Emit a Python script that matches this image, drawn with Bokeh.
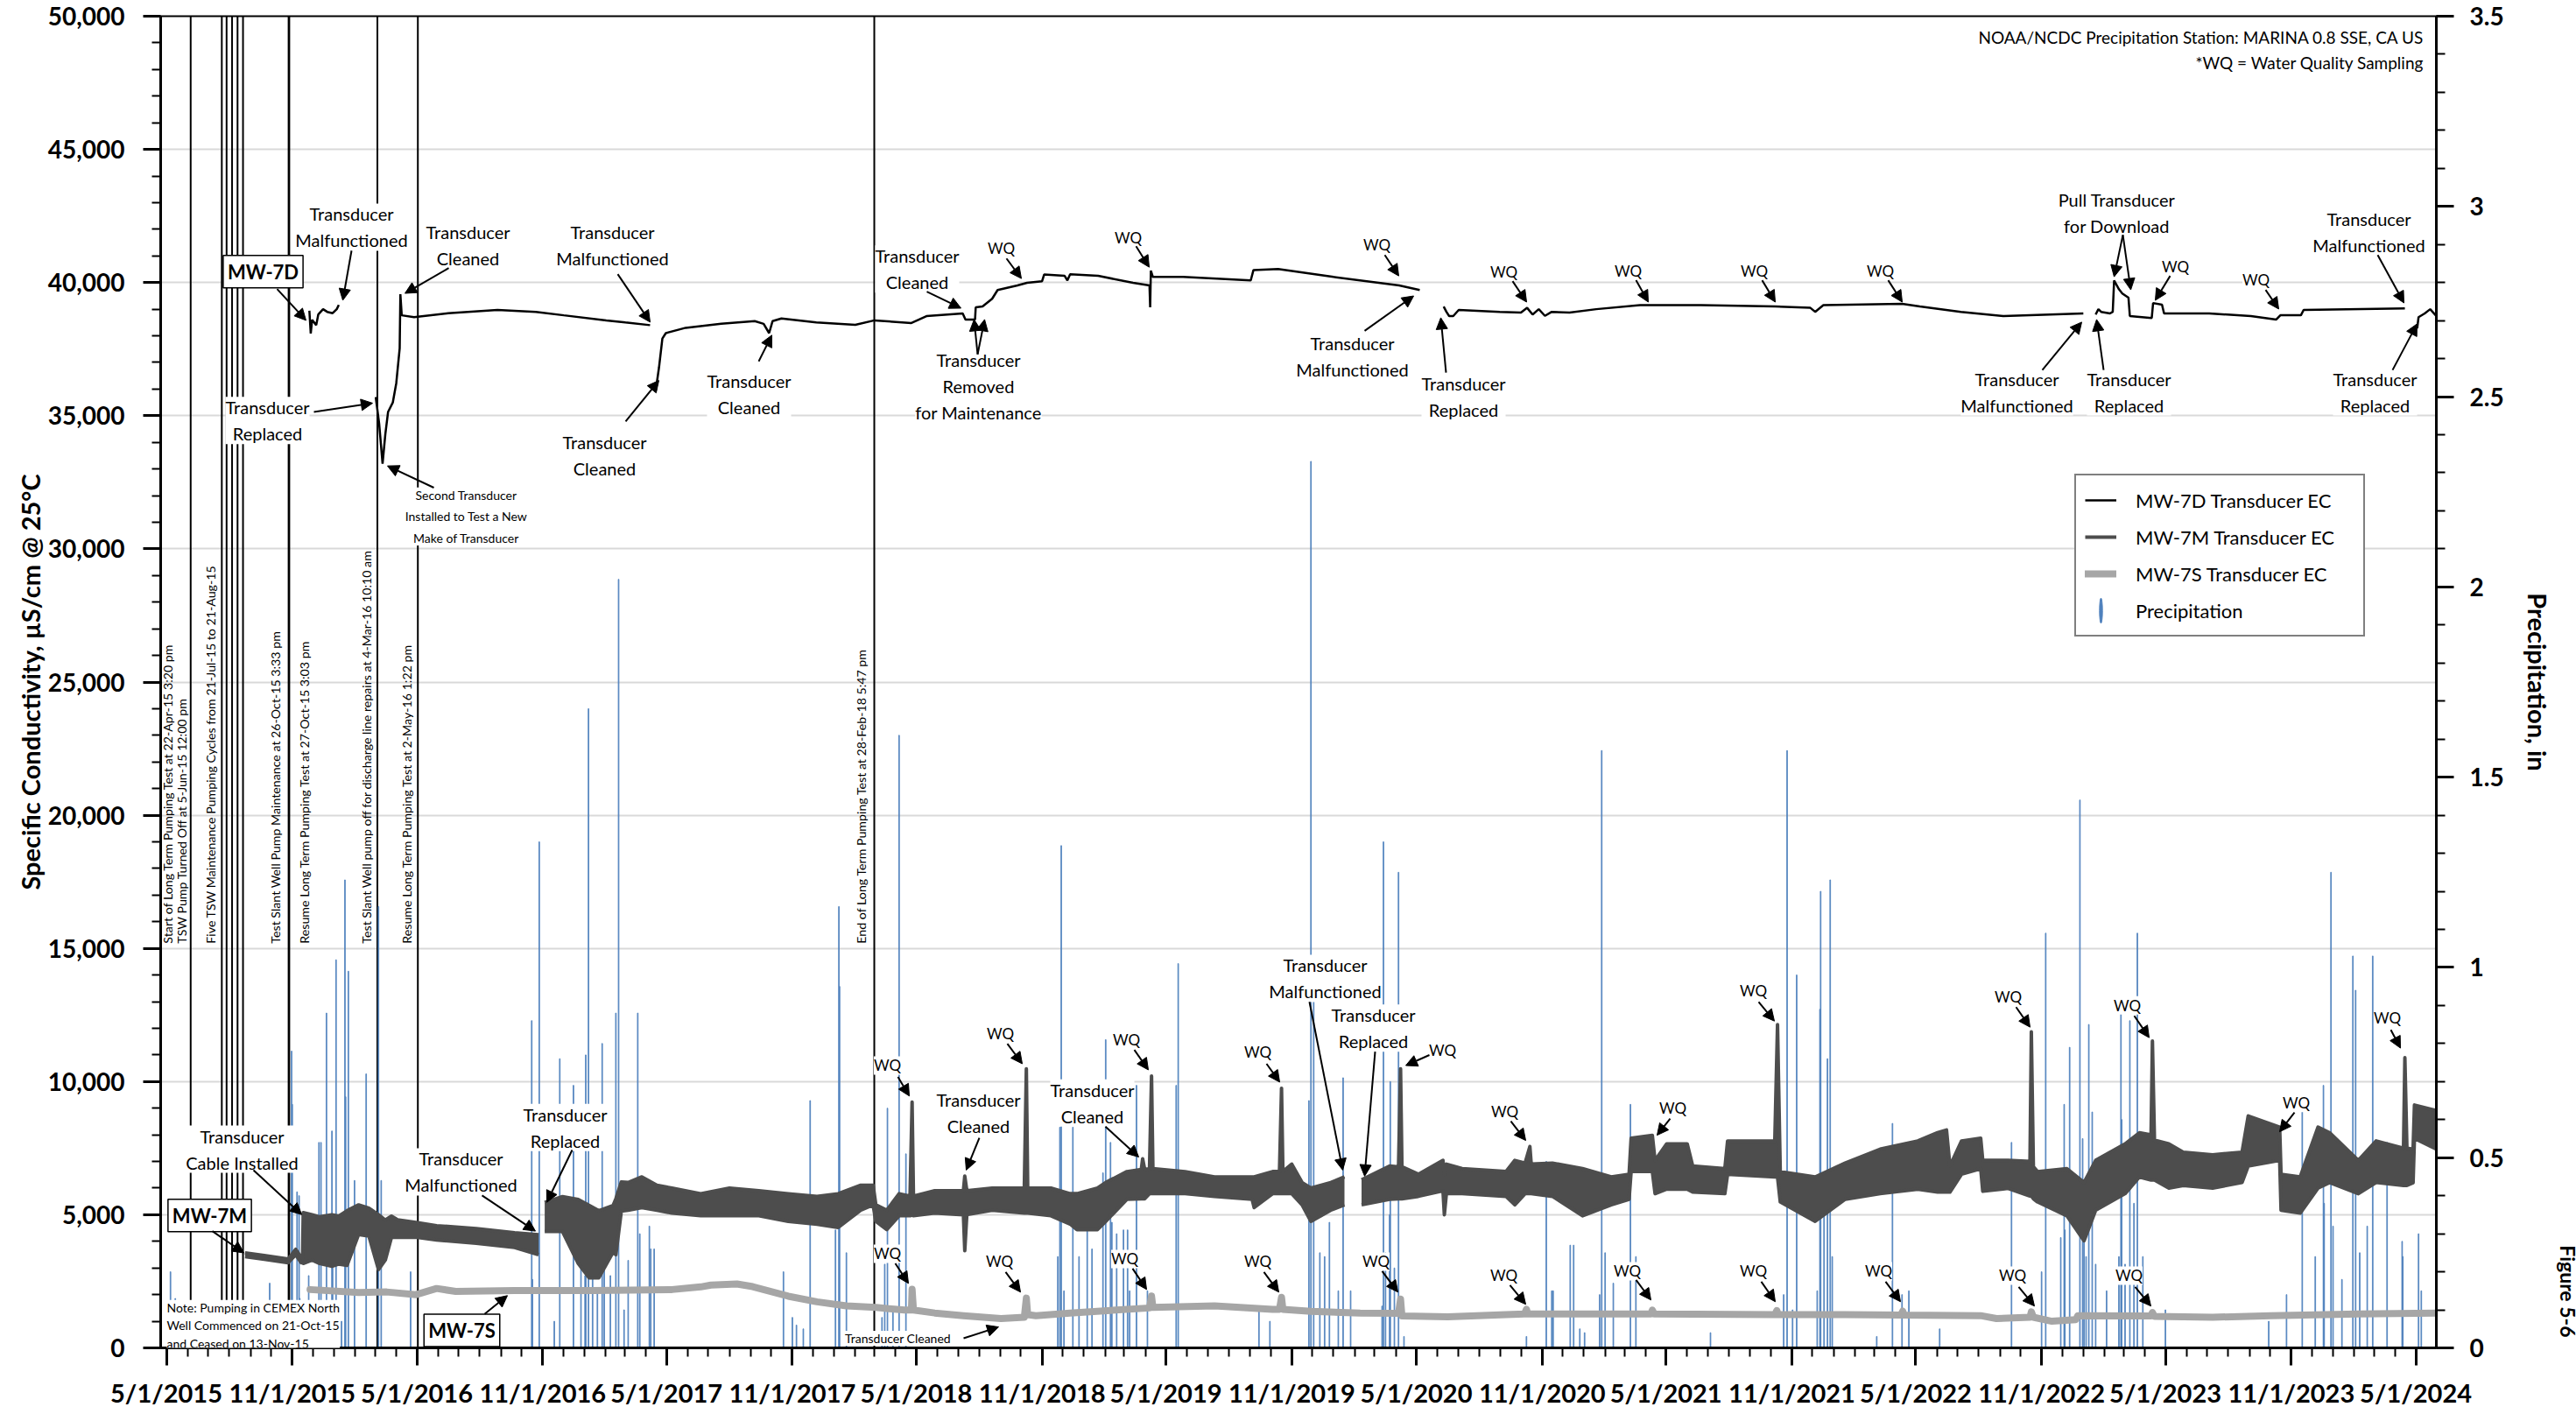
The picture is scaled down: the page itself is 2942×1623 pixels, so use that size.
import math
import numpy as np
import pandas as pd
from bokeh.plotting import figure
from bokeh.models import (Range1d, LinearAxis, FixedTicker, NumeralTickFormatter, Span, Label,
                          Arrow, NormalHead, Legend, LegendItem, ColumnDataSource, Title)
from bokeh.embed import file_html
from bokeh.resources import INLINE

NAN = float("nan")
FONT = "Lato"

# ---------------------------------------------------------------- data
X_START = "2015-04-22 15:20"
X_END = "2024-05-31"

x_tick_dates = ["2015-05-01", "2015-11-01", "2016-05-01", "2016-11-01", "2017-05-01", "2017-11-01",
                "2018-05-01", "2018-11-01", "2019-05-01", "2019-11-01", "2020-05-01", "2020-11-01",
                "2021-05-01", "2021-11-01", "2022-05-01", "2022-11-01", "2023-05-01", "2023-11-01",
                "2024-05-01"]
x_tick_labels = ["5/1/2015", "11/1/2015", "5/1/2016", "11/1/2016", "5/1/2017", "11/1/2017",
                 "5/1/2018", "11/1/2018", "5/1/2019", "11/1/2019", "5/1/2020", "11/1/2020",
                 "5/1/2021", "11/1/2021", "5/1/2022", "11/1/2022", "5/1/2023", "11/1/2023",
                 "5/1/2024"]

# MW-7D transducer EC (NaN = data gap)
mw7d_dates = ["2015-11-26", "2015-11-28", "2015-11-30", "2015-12-06", "2015-12-09", "2015-12-16",
              "2015-12-22", "2015-12-30", "2016-01-05", "2016-01-08", "2016-02-01",
              "2016-03-02", "2016-03-07", "2016-03-12", "2016-03-16", "2016-03-20", "2016-03-27",
              "2016-04-01", "2016-04-06", "2016-04-07", "2016-04-09", "2016-04-27", "2016-06-16",
              "2016-08-27", "2016-10-22", "2016-12-02", "2017-02-02", "2017-03-02", "2017-04-07",
              "2017-04-11",
              "2017-04-15", "2017-04-20", "2017-04-25", "2017-04-30", "2017-05-29", "2017-07-20",
              "2017-09-07", "2017-09-20", "2017-09-28", "2017-10-03", "2017-10-16", "2017-12-06",
              "2018-02-01", "2018-03-01", "2018-04-24", "2018-05-16", "2018-07-08", "2018-07-12",
              "2018-07-26", "2018-07-27", "2018-08-06", "2018-08-20", "2018-08-28", "2018-09-26",
              "2018-10-10", "2018-11-01", "2018-11-04", "2018-12-04", "2018-12-08", "2018-12-12",
              "2019-01-22", "2019-03-14", "2019-04-07", "2019-04-08", "2019-04-09", "2019-04-12",
              "2019-05-26", "2019-09-02", "2019-09-06", "2019-10-12", "2020-01-01", "2020-04-06",
              "2020-05-06", "2020-05-20",
              "2020-06-10", "2020-06-14", "2020-06-18", "2020-06-24", "2020-07-02", "2020-08-31",
              "2020-10-01", "2020-10-10", "2020-10-18", "2020-10-27", "2020-11-05", "2020-11-15",
              "2020-12-11", "2021-01-19", "2021-03-24", "2021-06-21", "2021-10-08", "2021-11-28",
              "2021-12-05", "2021-12-17", "2022-04-11", "2022-05-07", "2022-07-06", "2022-09-06",
              "2023-01-01", "2023-01-10",
              "2023-01-19", "2023-01-23", "2023-01-27", "2023-02-09", "2023-02-13", "2023-02-15",
              "2023-02-22", "2023-02-27", "2023-03-08", "2023-03-10", "2023-04-11", "2023-04-13",
              "2023-04-26", "2023-04-29", "2023-07-04", "2023-09-03", "2023-10-10", "2023-10-16",
              "2023-11-15", "2023-11-19", "2024-04-15", "2024-04-25",
              "2024-05-03", "2024-05-05", "2024-05-14", "2024-05-22", "2024-05-30"]
mw7d_ec = [38940, 38090, 38600, 38400, 38800, 39000,
           38900, 38850, 39000, 39160, NAN,
           35700, 34700, 33200, 34300, 35140, 35500,
           36220, 37530, 39560, 38770, 38700, 38850,
           38970, 38900, 38770, 38580, 38500, 38400,
           NAN,
           35900, 36800, 37900, 38100, 38300, 38450,
           38550, 38450, 38100, 38550, 38650, 38500,
           38410, 38580, 38480, 38740, 38840, 38610,
           38610, 39070, 39100, 39390, 39720, 39890,
           39990, 40050, 40300, 40250, 40080, 40310,
           40250, 39990, 39890, 39070, 40450, 40210,
           40210, 40080, 40470, 40510, 40210, 39890,
           39720, NAN,
           39100, 38900, 38740, 38740, 38970, 38900,
           38870, 39050, 38800, 39000, 38750, 38900,
           38870, 39000, 39150, 39150, 39100, 39050,
           38900, 39150, 39200, 39100, 38900, 38740,
           38840, NAN,
           38800, 39000, 38900, 38840, 38900, 40080,
           39750, 39590, 39430, 38740, 38670, 39230,
           39170, 38840, 38840, 38740, 38610, 38770,
           38770, 38970, 39030, NAN,
           38280, 38700, 38840, 39000, 38770]

# MW-7M transducer EC: lower and upper edge of the daily fluctuation band (NaN = gap)
mw7m_dates = ["2015-08-24", "2015-09-21", "2015-10-26", "2015-11-06", "2015-11-14", "2015-11-16",
              "2015-11-17", "2015-11-30", "2015-12-11", "2015-12-29", "2016-01-08", "2016-01-20",
              "2016-02-06", "2016-02-21", "2016-03-06", "2016-03-16", "2016-03-25", "2016-04-03",
              "2016-05-02", "2016-05-30", "2016-07-27", "2016-09-21", "2016-10-26", "2016-10-31",
              "2016-11-04", "2016-11-30", "2016-12-23", "2017-01-08", "2017-01-22", "2017-02-12",
              "2017-02-16", "2017-02-24", "2017-03-06", "2017-03-26", "2017-04-17", "2017-05-09",
              "2017-06-20", "2017-08-01", "2017-09-13", "2017-10-26", "2017-12-07", "2018-01-07",
              "2018-02-09", "2018-02-27", "2018-03-03", "2018-03-19", "2018-04-06", "2018-04-22",
              "2018-04-25", "2018-04-27", "2018-05-28", "2018-07-09", "2018-07-11", "2018-07-14",
              "2018-08-20", "2018-10-06", "2018-10-09", "2018-10-11", "2018-11-14", "2018-12-12",
              "2018-12-22", "2019-01-21", "2019-02-02", "2019-03-05", "2019-03-26", "2019-03-28",
              "2019-03-31", "2019-04-07", "2019-04-10", "2019-04-12", "2019-05-29", "2019-07-11",
              "2019-09-04", "2019-09-07", "2019-10-04", "2019-10-14", "2019-10-17", "2019-10-19",
              "2019-11-01", "2019-11-16", "2019-11-29", "2019-12-28", "2020-01-17", "2020-01-30",
              "2020-02-11", "2020-03-23", "2020-04-05", "2020-04-08", "2020-04-10", "2020-05-04",
              "2020-06-09", "2020-06-11", "2020-06-14", "2020-07-07", "2020-09-09", "2020-09-22",
              "2020-10-07", "2020-10-14", "2020-10-16", "2020-11-16", "2020-12-30", "2021-02-10",
              "2021-03-08", "2021-03-11", "2021-04-11", "2021-04-15", "2021-05-02", "2021-06-01",
              "2021-06-09", "2021-07-26", "2021-07-30", "2021-10-07", "2021-10-11", "2021-10-15",
              "2021-12-05", "2022-01-18", "2022-03-10", "2022-05-04", "2022-06-02", "2022-06-15",
              "2022-06-20", "2022-07-07", "2022-08-04", "2022-08-07", "2022-09-13", "2022-10-15",
              "2022-10-17", "2022-10-20", "2022-10-26", "2022-12-08", "2023-01-02", "2023-01-19",
              "2023-03-03", "2023-03-24", "2023-04-10", "2023-04-12", "2023-04-15", "2023-05-06",
              "2023-05-27", "2023-07-09", "2023-08-21", "2023-08-30", "2023-10-15", "2023-10-17",
              "2023-11-14", "2023-12-10", "2023-12-27", "2024-02-07", "2024-03-04", "2024-04-13",
              "2024-04-15", "2024-04-18", "2024-04-27", "2024-04-29", "2024-05-31"]
mw7m_low = [3430, 3330, 3200, 3500, 3200, 3200,
            3170, 3300, 3170, 3060, 3150, 3100,
            4260, 4200, 2940, 3300, 4150, 4150,
            4150, 4050, 3930, 3770, 3500, NAN,
            4370, 4370, 3170, 2630, 2630, 3600,
            3500, 5140, 5170, 5270, 5170, 5060,
            4960, 4960, 4960, 4750, 4640, 4520,
            5170, 5370, 4750, 4440, 4960, 4960,
            5000, 4960, 5060, 5000, 3650, 5000,
            5170, 5060, 5060, 5060, 4960, 4650,
            4440, 4440, 4750, 5580, 5600, 5600,
            5600, 5790, 5790, 5790, 5790, 5690,
            5580, 5270, 5790, 5790, 5790, 5790,
            5790, 5370, 4750, 5170, 5370, NAN,
            5370, 5580, 5600, 5600, 5600, 5690,
            5900, 5000, 5800, 5790, 5690, 5370,
            5790, 5790, 5790, 5690, 4960, 5370,
            5580, 6620, 6620, 5790, 5960, 5960,
            5850, 5790, 6520, 6420, 6420, 5480,
            4750, 5580, 5790, 5960, 5850, 5850,
            5850, 6520, 6730, 5880, 5990, 5700,
            5700, 5600, 5480, 4960, 4020, 5170,
            5790, 6420, 6300, 6300, 6300, 6000,
            6100, 6000, 6210, 6830, 7040, 5170,
            5060, 6000, 6210, 5790, 6210, 6100,
            6100, 6100, 6200, 7870, 7460]
mw7m_high = [3570, 3470, 3340, 3700, 3400, 3350,
             5080, 5000, 4920, 5000, 4950, 5150,
             5370, 5250, 5000, 4800, 4950, 4810,
             4700, 4590, 4480, 4320, 4250, NAN,
             5460, 5680, 5570, 5350, 5150, 5350,
             5600, 6230, 6210, 6420, 6110, 6000,
             5790, 6000, 5900, 5790, 5690, 5790,
             6110, 6110, 5375, 5170, 5790, 5700,
             9230, 5700, 5900, 5900, 6450, 5900,
             6000, 6000, 10480, 6000, 6000, 5790,
             5790, 6000, 6210, 6620, 6700, 7100,
             6700, 6730, 10210, 6730, 6620, 6420,
             6420, 6420, 6620, 6620, 9750, 6620,
             6900, 6210, 6000, 6210, 6420, NAN,
             6310, 6830, 6800, 10480, 6800, 6520,
             7040, 6500, 6900, 6730, 6620, 7040,
             6940, 7560, 6900, 6940, 6730, 6420,
             6520, 7870, 7980, 7040, 7660, 7660,
             6830, 6730, 7770, 7770, 12140, 6620,
             6420, 6940, 7460, 7770, 8080, 8180,
             6830, 7770, 7870, 7040, 7040, 7000,
             11870, 6800, 6620, 6730, 6210, 7040,
             7660, 8080, 8000, 11520, 7800, 7660,
             7350, 7250, 7350, 8710, 8290, 6520,
             6420, 8290, 8080, 7040, 7770, 7500,
             10900, 7500, 7460, 9120, 8910]

# MW-7S transducer EC
mw7s_dates = ["2015-11-27", "2016-02-06", "2016-03-18", "2016-04-30", "2016-05-30", "2016-06-27",
              "2016-09-21", "2017-01-14", "2017-05-09", "2017-06-20", "2017-07-05", "2017-08-12",
              "2017-09-04", "2017-10-26", "2017-12-07", "2018-01-19", "2018-03-03", "2018-04-14",
              "2018-04-24", "2018-04-25", "2018-04-27", "2018-05-28", "2018-07-09", "2018-09-02",
              "2018-10-06", "2018-10-09", "2018-10-11", "2018-10-23", "2018-12-12", "2019-04-07",
              "2019-04-10", "2019-04-12", "2019-07-11", "2019-10-04", "2019-10-14", "2019-10-17",
              "2019-10-19", "2019-11-29", "2020-02-09", "2020-04-05", "2020-04-08", "2020-04-10",
              "2020-06-16", "2020-09-09", "2020-10-06", "2020-10-09", "2020-10-11", "2021-04-09",
              "2021-04-11", "2021-04-14", "2021-10-07", "2021-10-10", "2021-10-12", "2022-01-18",
              "2022-04-09", "2022-04-12", "2022-04-14", "2022-08-04", "2022-08-27", "2022-10-15",
              "2022-10-17", "2022-10-20", "2022-11-16", "2022-12-21", "2022-12-24", "2023-04-10",
              "2023-04-12", "2023-04-15", "2023-07-09", "2023-10-02", "2024-02-07", "2024-05-31"]
mw7s_ec = [2190, 2080, 2100, 2000, 2230, 2120,
           2150, 2150, 2190, 2290, 2360, 2400,
           2300, 1940, 1730, 1580, 1520, 1420,
           1420, 2200, 1420, 1310, 1210, 1100,
           1150, 1870, 1250, 1210, 1310, 1500,
           1950, 1520, 1580, 1450, 1450, 1900,
           1450, 1370, 1310, 1300, 1830, 1200,
           1170, 1250, 1270, 1450, 1270, 1270,
           1420, 1270, 1250, 1400, 1250, 1250,
           1230, 1380, 1230, 1210, 1100, 1150,
           1355, 1150, 1000, 1060, 1210, 1200,
           1330, 1180, 1150, 1210, 1270, 1310]

# Daily precipitation, inches (NOAA/NCDC MARINA 0.8 SSE)
precip_dates = ["2015-04-23", "2015-05-07", "2015-05-14", "2015-09-29", "2015-10-31", "2015-11-01",
                "2015-11-08", "2015-11-11", "2015-11-12", "2015-11-25", "2015-12-10", "2015-12-13",
                "2015-12-21", "2015-12-29", "2015-12-30", "2016-01-04", "2016-01-12", "2016-01-17",
                "2016-01-18", "2016-01-22", "2016-01-31", "2016-02-17", "2016-03-06", "2016-03-10",
                "2016-04-22", "2016-10-16", "2016-10-17", "2016-10-27", "2016-11-18", "2016-11-26",
                "2016-12-16", "2016-12-27", "2017-01-02", "2017-01-03", "2017-01-07", "2017-01-13",
                "2017-01-20", "2017-01-27", "2017-01-30", "2017-02-08", "2017-02-16", "2017-02-20",
                "2017-02-28", "2017-03-06", "2017-03-20", "2017-03-23", "2017-04-06", "2017-04-08",
                "2017-04-13", "2017-10-19", "2017-11-01", "2017-11-07", "2017-11-17", "2017-11-27",
                "2018-01-03", "2018-01-08", "2018-01-09", "2018-01-19", "2018-03-12", "2018-03-16",
                "2018-03-20", "2018-03-28", "2018-04-06", "2018-04-16", "2018-11-24", "2018-11-27",
                "2018-11-29", "2018-12-03", "2018-12-16", "2018-12-25", "2019-01-06", "2019-01-13",
                "2019-01-29", "2019-02-02", "2019-02-09", "2019-02-11", "2019-02-18", "2019-02-28",
                "2019-03-06", "2019-03-09", "2019-03-19", "2019-04-04", "2019-05-16", "2019-05-19",
                "2019-09-14", "2019-09-30", "2019-11-26", "2019-11-29", "2019-12-03", "2019-12-12",
                "2019-12-19", "2019-12-26", "2020-01-08", "2020-01-15", "2020-01-26", "2020-03-12",
                "2020-03-14", "2020-03-17", "2020-03-23", "2020-03-24", "2020-03-30", "2020-04-05",
                "2020-04-13", "2020-10-09", "2020-11-07", "2020-11-15", "2020-11-17", "2020-12-12",
                "2020-12-17", "2020-12-26", "2021-01-02", "2021-01-24", "2021-01-27", "2021-02-01",
                "2021-02-13", "2021-03-10", "2021-03-18", "2021-07-05", "2021-10-20", "2021-10-25",
                "2021-11-02", "2021-11-08", "2021-12-08", "2021-12-12", "2021-12-13", "2021-12-18",
                "2021-12-23", "2021-12-27", "2021-12-30", "2022-03-05", "2022-03-28", "2022-04-11",
                "2022-04-21", "2022-06-05", "2022-09-18", "2022-11-01", "2022-11-07", "2022-11-29",
                "2022-12-04", "2022-12-05", "2022-12-12", "2022-12-27", "2022-12-31", "2023-01-02",
                "2023-01-05", "2023-01-09", "2023-01-14", "2023-01-19", "2023-02-04", "2023-02-22",
                "2023-02-25", "2023-02-26", "2023-03-03", "2023-03-10", "2023-03-16", "2023-03-21",
                "2023-03-29", "2023-05-01", "2023-09-29", "2023-10-25", "2023-11-17", "2023-12-06",
                "2023-12-18", "2023-12-19", "2023-12-29", "2024-01-01", "2024-01-14", "2024-01-30",
                "2024-02-03", "2024-02-09", "2024-02-20", "2024-02-28", "2024-03-20", "2024-04-11",
                "2024-04-12", "2024-05-05", "2024-05-09"]
precip_in = [0.32, 0.20, 0.13, 0.17, 0.78, 0.64,
             0.41, 0.40, 0.13, 0.19, 0.54, 0.54,
             0.88, 0.57, 0.21, 1.02, 0.07, 1.23,
             0.66, 0.99, 0.44, 0.72, 1.16, 0.44,
             0.20, 0.86, 0.18, 1.33, 0.07, 0.76,
             0.69, 0.22, 0.19, 0.77, 1.68, 0.27,
             0.15, 0.80, 0.22, 0.19, 0.88, 2.02,
             0.10, 0.23, 0.88, 0.30, 0.32, 0.26,
             0.26, 0.20, 0.08, 0.06, 0.05, 0.65,
             0.31, 1.16, 0.95, 0.25, 0.08, 0.22,
             0.63, 0.10, 1.61, 0.51, 0.24, 0.58,
             1.32, 0.15, 0.58, 0.24, 0.31, 0.26,
             0.46, 0.81, 0.54, 0.33, 0.30, 0.31,
             0.31, 0.15, 0.69, 0.15, 0.69, 1.01,
             0.11, 0.07, 0.65, 2.33, 0.91, 0.25,
             0.24, 0.33, 0.15, 0.71, 0.15, 0.11,
             1.33, 0.25, 0.35, 0.70, 0.21, 1.25,
             0.03, 0.03, 0.49, 0.15, 0.15, 0.27,
             0.27, 0.05, 0.04, 0.14, 1.57, 0.25,
             0.17, 0.64, 0.24, 0.04, 0.14, 1.57,
             0.10, 0.98, 0.15, 0.89, 1.20, 0.35,
             0.76, 1.23, 0.24, 0.03, 0.59, 0.14,
             0.15, 0.05, 0.54, 0.20, 1.09, 0.29,
             0.64, 0.31, 0.79, 1.44, 0.55, 0.36,
             0.24, 0.85, 0.62, 0.22, 0.15, 0.24,
             0.88, 0.60, 0.22, 0.86, 0.38, 1.09,
             0.24, 0.10, 0.07, 0.14, 0.62, 0.24,
             0.69, 0.38, 1.25, 0.32, 0.18, 1.03,
             0.94, 0.25, 0.32, 1.03, 0.54, 0.28,
             0.24, 0.30, 0.15]

# pumping-test events (vertical lines)
event_dates = ["2015-04-22 15:20", "2015-06-05 12:00", "2015-07-21", "2015-07-28", "2015-08-05",
               "2015-08-13", "2015-08-21", "2015-10-26 15:33", "2015-10-27 15:03",
               "2016-03-04 10:10", "2016-05-02 13:22", "2018-02-28 17:47"]

# ---------------------------------------------------------------- helpers
def ms(d):
    return pd.Timestamp(d).value / 1e6

T0, T1 = ms(X_START), ms(X_END)
EC_MAX, P_MAX = 50000, 3.5

# annotation placement measured in the reference picture's pixel frame
REF_L, REF_R, REF_T, REF_B = 191, 2790, 19, 1547


def at(px, py):
    x = T0 + (px - REF_L) / (REF_R - REF_L) * (T1 - T0)
    y = (REF_B - py) / (REF_B - REF_T) * EC_MAX
    return x, y


C7D, C7M, C7S, BLUE = "black", "#4d4d4d", "#a6a6a6", "#4f81bd"

# ---------------------------------------------------------------- figure
FRAME_W, FRAME_H = 2599, 1521
p = figure(x_axis_type="datetime", frame_width=FRAME_W, frame_height=FRAME_H,
           x_range=Range1d(T0, T1), y_range=Range1d(0, EC_MAX),
           output_backend="svg", toolbar_location=None,
           min_border_left=183, min_border_right=150, min_border_top=18, min_border_bottom=60)
p.extra_y_ranges = {"precip": Range1d(0, P_MAX)}
p.outline_line_color = "black"
p.outline_line_width = 2
p.xgrid.grid_line_color = None
p.ygrid.grid_line_color = "#d9d9d9"
p.ygrid.grid_line_width = 2

# axes
xt = [ms(d) for d in x_tick_dates]
minor_x = [ms(d) for d in pd.date_range("2015-05-01", "2024-05-01", freq="MS")]
p.xaxis.ticker = FixedTicker(ticks=xt, minor_ticks=minor_x)
p.xaxis.major_label_overrides = {t: lab for t, lab in zip(xt, x_tick_labels)}

p.yaxis.ticker = FixedTicker(ticks=list(range(0, 50001, 5000)), minor_ticks=list(range(0, 50001, 1000)))
p.yaxis.formatter = NumeralTickFormatter(format="0,0")
p.yaxis.axis_label = "Specific Conductivity, µS/cm @ 25°C"

ax2 = LinearAxis(y_range_name="precip", axis_label="Precipitation, in",
                 ticker=FixedTicker(ticks=[i * 0.5 for i in range(8)],
                                    minor_ticks=[round(i * 0.1, 1) for i in range(36)]),
                 formatter=NumeralTickFormatter(format="0.[0]"))
p.add_layout(ax2, "right")

for ax in (p.xaxis[0], p.yaxis[0], ax2):
    ax.axis_line_width = 3
    ax.axis_line_color = "black"
    ax.major_tick_line_width = 3
    ax.minor_tick_line_width = 2
    ax.major_tick_line_color = "black"
    ax.minor_tick_line_color = "black"
    ax.major_tick_out = 20
    ax.major_tick_in = 0
    ax.minor_tick_out = 10
    ax.minor_tick_in = 0
    ax.major_label_text_font = FONT
    ax.major_label_text_font_style = "bold"
    ax.major_label_text_color = "black"
    ax.major_label_text_font_size = "28px"
    ax.axis_label_text_font = FONT
    ax.axis_label_text_font_style = "bold"
    ax.axis_label_text_font_size = "29px"
    ax.axis_label_text_color = "black"
p.xaxis.major_label_text_font_size = "29px"
p.xaxis.major_label_standoff = 13
p.yaxis.major_label_standoff = 21
p.yaxis.axis_label_standoff = 0
ax2.major_label_standoff = 18
ax2.axis_label_standoff = 18

# figure number, printed sideways at the right page edge
p.add_layout(Title(text="Figure 5-6", align="right", text_font=FONT, text_font_size="23px",
                   text_font_style="bold", text_color="black", standoff=0, offset=12), "right")

# event lines
for d in event_dates:
    p.add_layout(Span(location=ms(d), dimension="height", line_color="black", line_width=2,
                      level="underlay"))

# precipitation bars
src_p = ColumnDataSource(dict(x=pd.to_datetime(precip_dates), top=precip_in))
r_p = p.vbar(x="x", top="top", bottom=0, width=86400000, source=src_p, y_range_name="precip",
             fill_color=BLUE, line_color=BLUE, line_width=1, fill_alpha=0.85, line_alpha=0.85)

# MW-7S
r7s = p.line(pd.to_datetime(mw7s_dates), mw7s_ec, line_color=C7S, line_width=8,
             line_join="round", line_cap="round")

# MW-7M band
m_x = pd.to_datetime(mw7m_dates)
m_lo = np.array(mw7m_low, dtype=float)
m_hi = np.array(mw7m_high, dtype=float)
gaps = list(np.where(np.isnan(m_lo))[0])
bounds = [-1] + gaps + [len(m_lo)]
for a, b in zip(bounds[:-1], bounds[1:]):
    sl = slice(a + 1, b)
    if b - a - 1 >= 2:
        p.varea(x=m_x[sl], y1=m_lo[sl], y2=m_hi[sl], fill_color=C7M)
r7m = p.line(m_x, m_hi, line_color=C7M, line_width=4, line_join="round")
p.line(m_x, m_lo, line_color=C7M, line_width=4, line_join="round")

# MW-7D
r7d = p.line(pd.to_datetime(mw7d_dates), mw7d_ec, line_color=C7D, line_width=2.5)

# ---------------------------------------------------------------- annotations
rot_labels = [
    ("Start of Long Term Pumping Test at 22-Apr-15 3:20 pm", 199),
    ("TSW Pump Turned Off at 5-Jun-15 12:00 pm", 214.5),
    ("Five TSW Maintenance Pumping Cycles from 21-Jul-15 to 21-Aug-15", 248),
    ("Test Slant Well Pump Maintenance at 26-Oct-15 3:33 pm", 322),
    ("Resume Long Term Pumping Test at 27-Oct-15 3:03 pm", 354.5),
    ("Test Slant Well pump off for discharge line repairs at 4-Mar-16 10:10 am", 426),
    ("Resume Long Term Pumping Test at 2-May-16 1:22 pm", 472),
    ("End of Long Term Pumping Test at 28-Feb-18 5:47 pm", 990.5),
]
for text, px in rot_labels:
    x, y = at(px, 1083)
    p.add_layout(Label(x=x, y=y, text=text, angle=math.pi / 2, text_align="left",
                       text_baseline="middle", text_font=FONT, text_font_size="14.2px",
                       text_color="black"))

callouts = [
    ("Transducer\nMalfunctioned", 409, 261), ("Transducer\nCleaned", 542, 282),
    ("Transducer\nReplaced", 313, 483), ("Transducer\nMalfunctioned", 707, 282),
    ("Transducer\nCleaned", 698, 523), ("Transducer\nCleaned", 863, 452),
    ("Transducer\nCleaned", 1055, 309), ("Transducer\nRemoved\nfor Maintenance", 1125, 443),
    ("Transducer\nMalfunctioned", 1552, 409), ("Transducer\nReplaced", 1679, 456),
    ("Transducer\nMalfunctioned", 2311, 450), ("Pull Transducer\nfor Download", 2425, 245),
    ("Transducer\nReplaced", 2439, 450), ("Transducer\nMalfunctioned", 2713, 267),
    ("Transducer\nReplaced", 2720, 450),
    ("Transducer\nCable Installed", 284, 1319), ("Transducer\nMalfunctioned", 534, 1345),
    ("Transducer\nReplaced", 653, 1294), ("Transducer\nCleaned", 1125, 1277),
    ("Transducer\nCleaned", 1255, 1266), ("Transducer\nMalfunctioned", 1521, 1123),
    ("Transducer\nReplaced", 1576, 1180),
]
for text, px, py in callouts:
    x, y = at(px, py)
    p.add_layout(Label(x=x, y=y, text=text, text_align="center", text_baseline="middle",
                       text_font=FONT, text_font_size="20px", text_line_height=1.25,
                       text_color="black", background_fill_color="white"))

wq_marks = [(1151, 285), (1296, 273), (1580, 281), (1725, 312), (1867, 311), (2011, 311),
            (2155, 311), (2492, 306), (2584, 321),
            (1021, 1223), (1150, 1186), (1294, 1193), (1444, 1207), (1655, 1205), (1726, 1276),
            (1918, 1272), (2010, 1137), (2301, 1144), (2437, 1154), (2630, 1266), (2734, 1168),
            (1021, 1439), (1149, 1448), (1292, 1445), (1444, 1448), (1579, 1448), (1725, 1464),
            (1866, 1459), (2010, 1459), (2153, 1459), (2306, 1464), (2439, 1464)]
for px, py in wq_marks:
    x, y = at(px, py)
    p.add_layout(Label(x=x, y=y, text="WQ", text_align="center", text_baseline="middle",
                       text_font=FONT, text_font_size="17px", text_color="black",
                       background_fill_color="white"))

small_notes = [
    ("Second Transducer\nInstalled to Test a New\nMake of Transducer", 540, 593, "center", 1.45),
    ("Note: Pumping in CEMEX North\nWell Commenced on 21-Oct-15\nand Ceased on 13-Nov-15", 198, 1521, "left", 1.2),
    ("Transducer Cleaned", 1033, 1536, "center", 1.2),
]
for text, px, py, align, lh in small_notes:
    x, y = at(px, py)
    p.add_layout(Label(x=x, y=y, text=text, text_align=align, text_baseline="middle",
                       text_font=FONT, text_font_size="14px", text_line_height=lh,
                       text_color="black", background_fill_color="white"))

for text, px, py in [("MW-7D", 308, 312), ("MW-7M", 247, 1395), ("MW-7S", 535, 1527)]:
    x, y = at(px, py)
    p.add_layout(Label(x=x, y=y, text=text, text_align="center", text_baseline="middle",
                       text_font=FONT, text_font_size="22px", text_font_style="bold",
                       text_color="black", background_fill_color="white",
                       border_line_color="black", border_line_width=1.5, padding=5))

for text, py in [("NOAA/NCDC Precipitation Station: MARINA 0.8 SSE, CA US", 43),
                 ("*WQ = Water Quality Sampling", 72)]:
    x, y = at(2776, py)
    p.add_layout(Label(x=x, y=y, text=text, text_align="right", text_baseline="middle",
                       text_font=FONT, text_font_size="19px", text_color="black"))

arrows = [
    (324, 332, 357, 368), (409, 288, 399, 345), (520, 308, 470, 337), (366, 473, 433, 463),
    (503, 560, 450, 535), (713, 315, 750, 370), (722, 484, 760, 437), (874, 415, 889, 385),
    (1066, 335, 1105, 354), (1124, 407, 1120, 367), (1124, 407, 1132, 367),
    (1157, 297, 1174, 320), (1305, 283, 1320, 307), (1589, 293, 1605, 317),
    (1566, 380, 1622, 340), (1659, 428, 1653, 365), (1735, 323, 1751, 347),
    (1876, 322, 1890, 347), (2020, 322, 2035, 347), (2164, 322, 2180, 347),
    (2340, 425, 2385, 370), (2432, 270, 2422, 318), (2432, 270, 2441, 333),
    (2410, 425, 2402, 367), (2486, 317, 2469, 345), (2595, 333, 2610, 355),
    (2723, 293, 2753, 348), (2740, 425, 2768, 372),
    (250, 1413, 286, 1438), (297, 1343, 352, 1394), (558, 1372, 619, 1413),
    (661, 1320, 632, 1380), (561, 1508, 587, 1487),
    (1033, 1236, 1046, 1258), (1126, 1306, 1111, 1343), (1158, 1198, 1175, 1221),
    (1270, 1293, 1308, 1328), (1303, 1205, 1319, 1228), (1454, 1221, 1469, 1242),
    (1503, 1150, 1541, 1343), (1578, 1207, 1566, 1350), (1640, 1211, 1613, 1223),
    (1733, 1287, 1750, 1309), (1915, 1284, 1900, 1303), (2016, 1150, 2034, 1172),
    (2310, 1156, 2326, 1179), (2445, 1166, 2462, 1191), (2628, 1277, 2611, 1299),
    (2738, 1182, 2749, 1203),
    (1030, 1450, 1045, 1473), (1156, 1460, 1173, 1483), (1108, 1536, 1148, 1523),
    (1301, 1456, 1317, 1480), (1451, 1460, 1468, 1483), (1586, 1459, 1604, 1483),
    (1732, 1475, 1750, 1497), (1876, 1469, 1893, 1492), (2019, 1471, 2035, 1494),
    (2161, 1471, 2178, 1494), (2313, 1477, 2331, 1499), (2446, 1477, 2464, 1499),
]
for x0p, y0p, x1p, y1p in arrows:
    xs, ys = at(x0p, y0p)
    xe, ye = at(x1p, y1p)
    p.add_layout(Arrow(x_start=xs, y_start=ys, x_end=xe, y_end=ye, line_color="black",
                       line_width=2,
                       end=NormalHead(size=13, fill_color="black", line_color="black",
                                      line_width=1)))

# ---------------------------------------------------------------- legend
# swatch renderer for the precipitation entry: a thin upright ellipse kept outside the x-range,
# so only its legend glyph (a narrow vertical bar) is seen
r_leg_p = p.ellipse(x=[T0 - (T1 - T0)], y=[0], width=4, height=34, width_units="screen",
                    height_units="screen", fill_color=BLUE, line_color=BLUE)
legend = Legend(items=[LegendItem(label="MW-7D Transducer EC", renderers=[r7d]),
                       LegendItem(label="MW-7M Transducer EC", renderers=[r7m]),
                       LegendItem(label="MW-7S Transducer EC", renderers=[r7s]),
                       LegendItem(label="Precipitation", renderers=[r_leg_p])],
                location=(2186, 812),
                label_text_font=FONT, label_text_font_size="22px", label_text_color="black",
                glyph_width=36, glyph_height=36, label_height=36, label_width=250,
                spacing=6, padding=10, margin=0, label_standoff=22,
                border_line_color="black", border_line_width=2,
                background_fill_color="white", background_fill_alpha=1)
p.add_layout(legend)

open("out.html", "w").write(file_html(p, INLINE))
